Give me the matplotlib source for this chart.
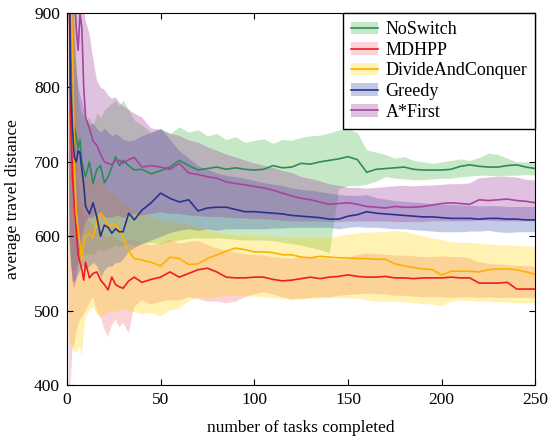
import numpy as np
import matplotlib
matplotlib.use('Agg')
import matplotlib.pyplot as plt
from matplotlib.patches import Patch
from matplotlib.lines import Line2D

tasks = [1, 2, 3, 4, 5, 6, 7, 8, 9, 10,
         12, 14, 16, 18, 20, 22, 24, 26, 28, 30,
         33, 36, 40,
         45, 50, 55, 60, 65, 70, 75, 80, 85, 90, 95, 100, 105, 110, 115, 120,
         125, 130, 135, 140, 145, 150, 155, 160, 165, 170, 175, 180, 185, 190,
         195, 200, 205, 210, 215, 220, 225, 230, 235, 240, 245, 250]

noswitch = [960, 850, 760, 745, 734, 718, 730, 700, 689, 680,
            700, 671, 690, 695, 672, 680, 693, 707, 695, 702,
            695, 689, 690,
            684, 688, 693, 702, 695, 689, 691, 693, 690, 692, 690, 689, 690, 695, 692, 693,
            698, 697, 700, 702, 704, 707, 703, 686, 690, 691, 692, 693, 690, 689,
            689, 689, 690, 694, 696, 694, 693, 693, 695, 696, 693, 691]
noswitch_hi = [1100, 1050, 950, 880, 820, 790, 770, 765, 760, 755,
               760, 750, 766, 760, 770, 775, 779, 783, 775, 783,
               770, 756, 750,
               739, 745, 738, 747, 740, 743, 735, 738, 730, 734, 726, 729, 731, 725, 730, 729,
               733, 735, 736, 739, 743, 745, 739, 716, 713, 710, 705, 707, 702, 700,
               698, 700, 702, 704, 702, 706, 712, 710, 705, 700, 700, 698]
noswitch_lo = [600, 560, 550, 555, 560, 565, 570, 572, 575, 575,
               578, 575, 580, 582, 580, 583, 585, 588, 586, 588,
               590, 588, 590,
               592, 590, 593, 595, 597, 598, 597, 598, 597, 596, 595, 595, 595, 594, 592, 590,
               588, 585, 582, 578, 664, 668, 668, 670, 674, 680, 678, 677, 676, 676,
               677, 678, 678, 680, 681, 682, 682, 681, 682, 682, 683, 682]

mdhpp = [1000, 760, 680, 640, 610, 575, 565, 555, 541, 565,
         544, 550, 552, 541, 535, 528, 545, 535, 532, 530,
         540, 545, 538,
         542, 545, 552, 545, 550, 555, 557, 552, 545, 544, 544, 545, 545, 542, 540, 541,
         543, 545, 543, 545, 546, 548, 546, 545, 545, 546, 544, 544, 543, 544,
         544, 544, 545, 544, 544, 537, 537, 537, 538, 529, 529, 529]
mdhpp_hi = [1100, 1000, 900, 800, 720, 680, 650, 640, 630, 630,
            620, 615, 610, 605, 600, 598, 600, 596, 594, 592,
            594, 595, 590,
            588, 590, 595, 590, 592, 594, 588, 584, 580, 578, 576, 575, 574, 572, 571, 570,
            572, 572, 570, 570, 568, 570, 575, 577, 576, 575, 574, 574, 573, 572,
            572, 573, 572, 572, 570, 565, 563, 562, 561, 560, 560, 559]
mdhpp_lo = [380, 400, 450, 455, 470, 480, 488, 491, 495, 500,
            510, 518, 500, 491, 475, 465, 480, 488, 478, 483,
            470, 505, 514,
            508, 512, 514, 514, 518, 516, 512, 512, 510, 512, 518, 522, 525, 522, 518, 515,
            516, 517, 518, 518, 520, 521, 522, 523, 522, 522, 520, 520, 519, 518,
            518, 518, 517, 518, 518, 517, 518, 517, 517, 517, 517, 517]

divide = [1000, 950, 860, 700, 631, 610, 590, 568, 590, 600,
          604, 598, 620, 631, 625, 612, 617, 615, 610, 598,
          580, 570, 568,
          565, 560, 572, 570, 562, 563, 570, 575, 580, 584, 582, 579, 579, 578, 575, 575,
          572, 571, 573, 572, 571, 571, 570, 570, 569, 569, 563, 560, 558, 556,
          555, 548, 553, 553, 553, 552, 555, 556, 556, 555, 552, 549]
divide_hi = [1100, 1100, 1050, 950, 850, 780, 740, 700, 690, 680,
             680, 670, 675, 680, 670, 660, 660, 655, 650, 645,
             640, 635, 630,
             625, 622, 620, 618, 615, 612, 608, 605, 603, 602, 601, 600, 600, 599, 599, 598,
             598, 598, 598, 598, 600, 602, 604, 605, 605, 606, 607, 606, 603, 600,
             597, 595, 592, 591, 591, 590, 589, 588, 588, 587, 586, 586]
divide_lo = [470, 455, 450, 445, 445, 448, 451, 438, 470, 490,
             500, 505, 495, 490, 495, 498, 500, 498, 500, 502,
             500, 498, 495,
             497, 492, 500, 503, 512, 518, 516, 518, 520, 520, 519, 519, 518, 517, 516, 515,
             515, 516, 516, 517, 517, 517, 516, 514, 512, 512, 512, 511, 510, 509,
             508, 506, 512, 514, 513, 512, 512, 511, 511, 510, 510, 510]

greedy = [1000, 800, 745, 706, 700, 715, 712, 690, 670, 640,
          630, 645, 626, 600, 615, 612, 604, 610, 606, 606,
          631, 622, 635,
          645, 658, 651, 646, 649, 634, 638, 639, 639, 636, 633, 633, 632, 631, 630, 628,
          627, 626, 625, 623, 623, 627, 629, 633, 631, 630, 629, 628, 627, 626,
          626, 625, 624, 624, 624, 623, 624, 624, 623, 623, 622, 622]
greedy_hi = [1100, 1000, 900, 850, 820, 800, 790, 780, 770, 760,
             750, 752, 745, 740, 745, 740, 735, 738, 735, 730,
             728, 730, 735,
             740, 745, 730, 715, 705, 695, 690, 685, 682, 680, 678, 675, 672, 670, 668, 665,
             663, 662, 660, 658, 656, 655, 655, 656, 652, 650, 648, 647, 646, 645,
             644, 643, 643, 642, 642, 641, 641, 641, 640, 640, 640, 640]
greedy_lo = [600, 560, 540, 540, 545, 550, 555, 560, 560, 555,
             560, 565, 560, 545, 555, 560, 560, 565, 565, 570,
             580, 585, 590,
             595, 600, 605, 608, 610, 608, 610, 608, 610, 610, 610, 610, 610, 611, 611, 612,
             612, 612, 612, 612, 610, 612, 613, 612, 612, 611, 610, 610, 609, 608,
             607, 606, 606, 606, 607, 607, 608, 606, 605, 606, 606, 606]

astar = [1000, 1000, 980, 930, 880, 850, 900, 880, 800, 760,
         745, 728, 722, 710, 700, 698, 696, 702, 702, 698,
         703, 706, 693,
         695, 693, 690, 698, 685, 683, 680, 678, 673, 671, 669, 667, 665, 662, 658, 654,
         651, 649, 646, 643, 644, 645, 643, 640, 639, 638, 640, 639, 639, 640,
         642, 644, 645, 644, 643, 649, 648, 649, 650, 648, 647, 645]
astar_hi = [1200, 1200, 1150, 1100, 1050, 1000, 950, 930, 910, 890,
            873, 840, 810, 800, 797, 790, 785, 787, 780, 775,
            770, 765, 760,
            745, 743, 738, 735, 729, 726, 720, 715, 710, 706, 702, 698, 695, 692, 688, 685,
            680, 677, 674, 670, 668, 665, 665, 664, 665, 666, 667, 668, 667, 668,
            668, 669, 670, 670, 671, 678, 679, 680, 680, 679, 676, 675]
astar_lo = [700, 580, 540, 530, 540, 560, 580, 600, 610, 620,
            625, 625, 630, 628, 625, 625, 625, 627, 627, 625,
            628, 630, 628,
            630, 632, 630, 630, 628, 627, 626, 626, 625, 624, 624, 623, 623, 622, 621, 620,
            620, 620, 620, 619, 619, 620, 620, 620, 620, 620, 619, 619, 619, 619,
            620, 620, 620, 620, 620, 621, 621, 620, 620, 620, 620, 620]

names = ['NoSwitch', 'MDHPP', 'DivideAndConquer', 'Greedy', 'A*First']
means = [noswitch, mdhpp, divide, greedy, astar]
highs = [noswitch_hi, mdhpp_hi, divide_hi, greedy_hi, astar_hi]
lows = [noswitch_lo, mdhpp_lo, divide_lo, greedy_lo, astar_lo]
line_colors = ['#2e8b57', '#ee1c25', '#ffb000', '#2b3190', '#a6449e']
fill_colors = ['#44b648', '#f07080', '#ffd400', '#3a52ac', '#9b379b']

plt.rcParams['font.family'] = ['Liberation Serif', 'DejaVu Serif']

fig = plt.figure(figsize=(5.48, 4.37), dpi=100)
ax = fig.add_axes([0.122, 0.119, 0.855, 0.851])

x = np.array(tasks)
for lo, hi, fc in zip(lows, highs, fill_colors):
    ax.fill_between(x, lo, hi, color=fc, alpha=0.3, linewidth=0)
for m, lc in zip(means, line_colors):
    ax.plot(x, m, color=lc, linewidth=1.2)

ax.set_xlim(0, 250)
ax.set_ylim(400, 900)
ax.set_xticks(range(0, 251, 50))
ax.set_yticks(range(400, 901, 100))
ax.tick_params(direction='in', top=True, right=True, length=4, labelsize=12.5, pad=5)
ax.set_xlabel('number of tasks completed', fontsize=12.5, labelpad=9)
ax.set_ylabel('average travel distance', fontsize=12.5, labelpad=9)

handles = [(Patch(facecolor=fc, alpha=0.3, linewidth=0), Line2D([], [], color=lc, linewidth=1.2))
           for fc, lc in zip(fill_colors, line_colors)]
leg = ax.legend(handles, names, loc='upper right', fontsize=13, borderaxespad=0,
                fancybox=False, framealpha=1, edgecolor='black', labelspacing=0.2,
                handlelength=1.5, handletextpad=0.4, borderpad=0.45)
leg.get_frame().set_linewidth(1.0)

plt.savefig('out.png', dpi=100)
